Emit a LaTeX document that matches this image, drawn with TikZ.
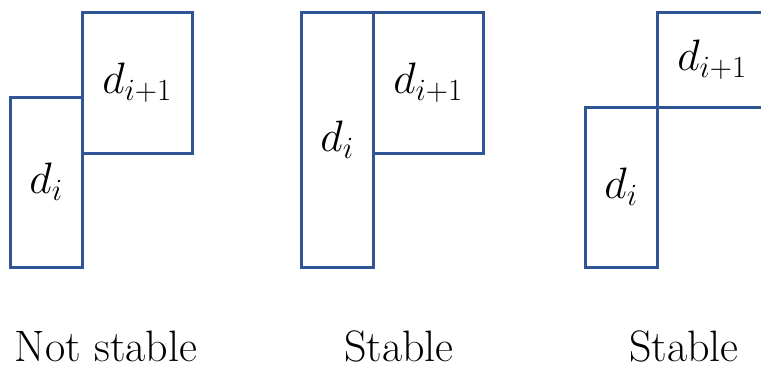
\RequirePackage{fix-cm}
\documentclass[tikz,border=0pt]{standalone}
\usepackage{amsmath,amssymb}
\usepackage{tikz}
\usetikzlibrary{positioning}
\definecolor{BoxBlue}{RGB}{47,85,151}
\tikzset{
  block/.style={draw=BoxBlue,line width=3pt,inner sep=0pt,minimum width=72pt,font=\fontsize{44}{52}\selectfont},
  wide/.style={block,minimum width=110pt},
  caption/.style={anchor=base,inner sep=0pt,font=\fontsize{44}{52}\selectfont},
}

\begin{document}
\begin{tikzpicture}[x=1pt,y=-1pt]
\useasboundingbox (0,0) rectangle (761,365);
\clip (0,0) rectangle (761,365);
% not stable
\node[block,minimum height=170pt] (pa) at (46,182) {$d_i$};
\node[wide,minimum height=141pt] (pb) at (137,82.5) {$d_{i+1}$};
% stable, same top
\node[block,minimum height=255pt] (qa) at (337,139.5) {$d_i$};
\node[wide,minimum height=141pt] (qb) at (428,82.5) {$d_{i+1}$};
% stable, on top
\node[block,minimum height=160pt] (ra) at (621,187) {$d_i$};
\node[wide,minimum height=95pt] (rb) at (712,59.5) {$d_{i+1}$};
\node[caption] (pc) at (106,361) {Not stable};
\node[caption] (qc) at (399,361) {Stable};
\node[caption] (rc) at (684,361) {Stable};
\end{tikzpicture}
\end{document}
